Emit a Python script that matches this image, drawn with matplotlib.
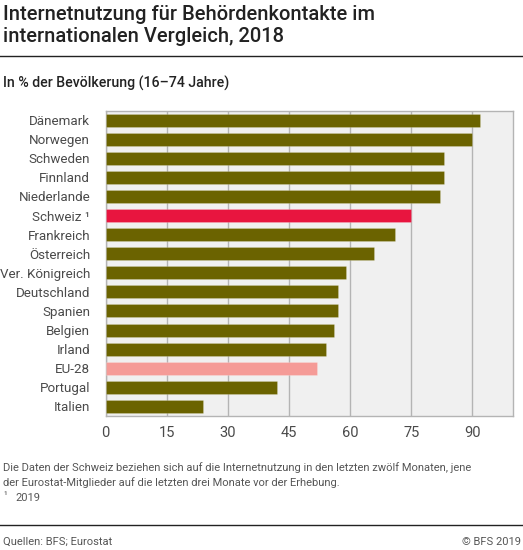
import numpy as np
import matplotlib
matplotlib.use('Agg')
import matplotlib.pyplot as plt
from matplotlib.lines import Line2D

plt.rcParams['font.family'] = ['Roboto', 'DejaVu Sans']

countries = ['Dänemark', 'Norwegen', 'Schweden', 'Finnland', 'Niederlande',
             'Schweiz', 'Frankreich', 'Österreich', 'Ver. Königreich',
             'Deutschland', 'Spanien', 'Belgien', 'Irland', 'EU-28',
             'Portugal', 'Italien']
values = [92, 90, 83, 83, 82, 75, 71, 66, 59, 57, 57, 56, 54, 52, 42, 24]
ticks = [0, 15, 30, 45, 60, 75, 90]

olive = '#6b6300'
colors = []
for c in countries:
    if c == 'Schweiz':
        colors.append('#e8153f')
    elif c == 'EU-28':
        colors.append('#f59b97')
    else:
        colors.append(olive)


def main():
    fig = plt.figure(figsize=(5.23, 5.5), dpi=100)
    ax = fig.add_axes([105.5 / 523, 1 - 416 / 550, 407.5 / 523, 305.5 / 550])

    ax.set_facecolor('#f0f0f0')
    y = np.arange(len(countries))
    ax.barh(y, values, height=0.68, color=colors, edgecolor='#ffffff40',
            linewidth=0.5, zorder=3)
    ax.set_ylim(len(countries) - 0.5, -0.5)
    ax.set_xlim(0, 100)
    ax.set_xticks(ticks)
    ax.set_xticklabels([str(t) for t in ticks])
    ax.set_yticks(y)
    ax.set_yticklabels([c + ' \u00b9' if c == 'Schweiz' else c for c in countries])
    ax.grid(axis='x', color='#b4b4b4', linewidth=1, zorder=1)
    for s in ax.spines.values():
        s.set_color('#b4b4b4')
        s.set_linewidth(1)
    ax.tick_params(axis='y', length=0, pad=11, labelsize=9.6, labelcolor='#4a4a4a')
    ax.tick_params(axis='x', length=0, pad=7, labelsize=10.5, labelcolor='#4a4a4a')

    fig.text(0.006, 1 - 5 / 550, 'Internetnutzung für Behördenkontakte im\ninternationalen Vergleich, 2018',
             fontsize=14.5, fontweight='medium', color='#222222', va='top',
             linespacing=1.2)
    fig.add_artist(Line2D([0, 1], [1 - 56 / 550, 1 - 56 / 550], color='#222222', linewidth=1))
    fig.text(0.006, 1 - 83 / 550, 'In % der Bevölkerung (16–74 Jahre)',
             fontsize=10.2, fontweight='medium', color='#222222', va='center')

    fig.text(0.006, 1 - 475 / 550,
             'Die Daten der Schweiz beziehen sich auf die Internetnutzung in den letzten zwölf Monaten, jene\n'
             'der Eurostat-Mitglieder auf die letzten drei Monate vor der Erhebung.',
             fontsize=8, color='#555555', va='center', linespacing=1.5)
    fig.text(0.006, 1 - 495 / 550, '\u00b9', fontsize=7, color='#555555', va='center')
    fig.text(0.03, 1 - 498 / 550, '2019', fontsize=8, color='#555555', va='center')

    fig.add_artist(Line2D([0, 1], [1 - 525 / 550, 1 - 525 / 550], color='#222222', linewidth=1))
    fig.text(0.006, 1 - 542 / 550, 'Quellen: BFS; Eurostat', fontsize=8,
             color='#555555', va='center')
    fig.text(0.996, 1 - 542 / 550, '© BFS 2019', fontsize=8,
             color='#555555', va='center', ha='right')

    fig.savefig('out.png', dpi=100)


if __name__ == '__main__':
    main()
